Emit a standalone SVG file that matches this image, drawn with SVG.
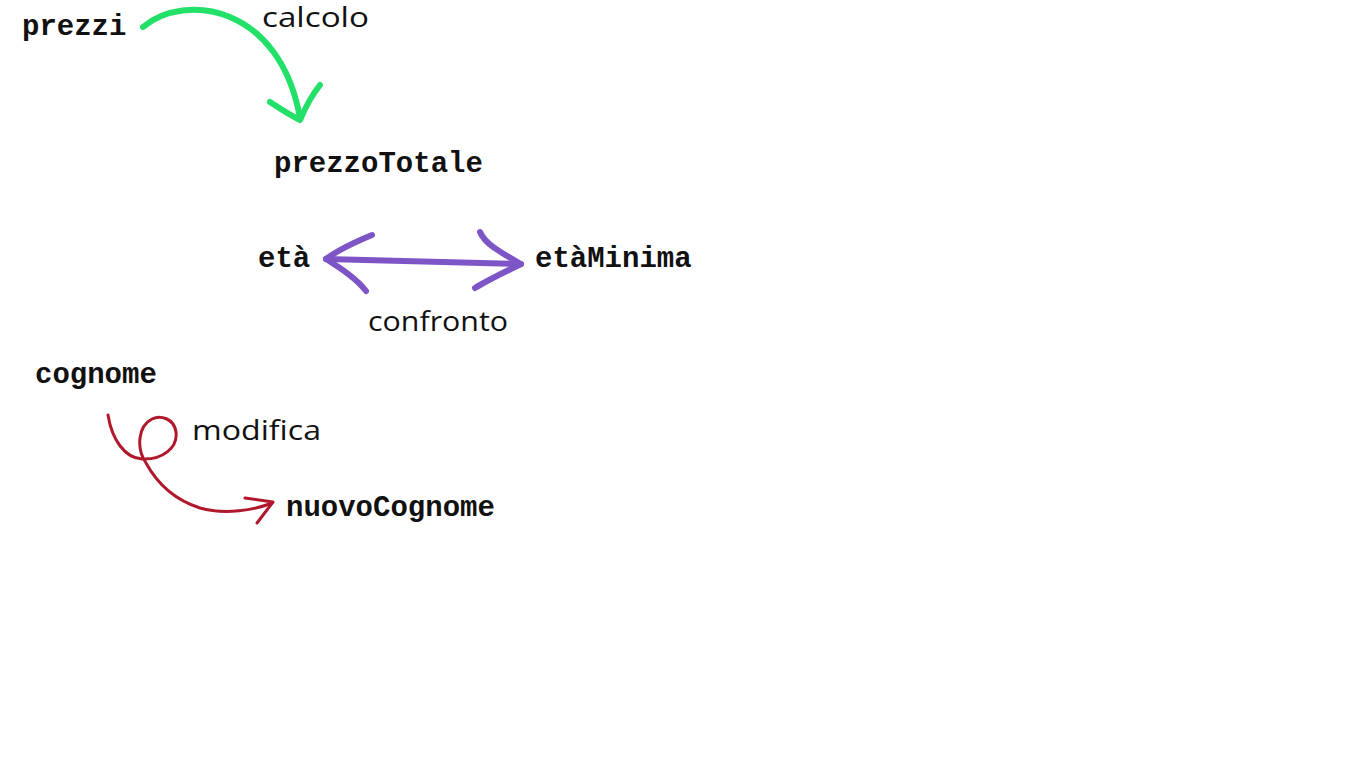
<svg xmlns="http://www.w3.org/2000/svg" width="1365" height="768" viewBox="0 0 1365 768">
<style>
.node{font-family:"Liberation Mono","Courier New",monospace;font-weight:bold;font-size:29px;fill:#111}
.lbl{font-family:"Open Sans","Noto Sans",sans-serif;font-size:27px;fill:#111}
.g{fill:none;stroke:#22e068;stroke-width:6;stroke-linecap:round;stroke-linejoin:round}
.p{fill:none;stroke:#7d55c7;stroke-width:6;stroke-linecap:round;stroke-linejoin:round}
.r{fill:none;stroke:#b0182c;stroke-width:3;stroke-linecap:round;stroke-linejoin:round}
</style>
<rect width="1365" height="768" fill="#ffffff"/>
<g id="connectors">
<g id="calcolo-arrow">
<path class="g" d="M143,27 C185,-8 280,5 300,118"/>
<path class="g" d="M270,102 C282,110 292,116 300,120 C306,106 312,95 320,85"/>
</g>
<g id="confronto-arrow">
<path class="p" d="M326,259 L521,264"/>
<path class="p" d="M372,235 C355,242 338,250 326,259 C340,268 356,278 366,291"/>
<path class="p" d="M480,232 C485,244 500,252 521,264 C505,272 488,280 475,288"/>
</g>
<g id="modifica-arrow">
<path class="r" d="M108,415 C112,440 125,458 142,459 C162,460 178,448 176,432 C174,418 160,415 152,419 C138,426 136,448 146,463 C158,485 175,500 200,508 C225,515 255,510 272,503"/>
<path class="r" d="M245,498 L273,502 L257,523"/>
</g>
</g>
<g id="node-prezzi"><text class="node" x="22" y="35">prezzi</text></g>
<g id="node-prezzoTotale"><text class="node" x="274" y="172">prezzoTotale</text></g>
<g id="node-eta"><text class="node" x="258" y="267">età</text></g>
<g id="node-etaMinima"><text class="node" x="535" y="267">etàMinima</text></g>
<g id="node-cognome"><text class="node" x="35" y="383">cognome</text></g>
<g id="node-nuovoCognome"><text class="node" x="286" y="516">nuovoCognome</text></g>
<g id="labels">
<text class="lbl" x="262" y="27" textLength="107" lengthAdjust="spacingAndGlyphs">calcolo</text>
<text class="lbl" x="368" y="331" textLength="140" lengthAdjust="spacingAndGlyphs">confronto</text>
<text class="lbl" x="192" y="440" textLength="129" lengthAdjust="spacingAndGlyphs">modifica</text>
</g>
</svg>
